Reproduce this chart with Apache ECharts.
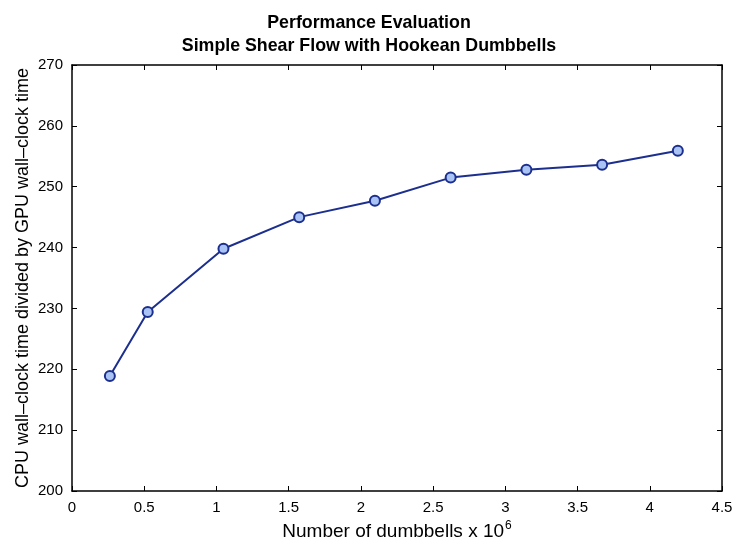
<!DOCTYPE html>
<html><head><meta charset="utf-8">
<script src="https://cdn.jsdelivr.net/npm/echarts@6/dist/echarts.min.js"></script>
<style>html,body{margin:0;padding:0;background:#fff}#c{width:738px;height:545px}</style>
</head><body><div id="c"></div>
<script>
const dumbbells = [0.262144, 0.524288, 1.048576, 1.572864, 2.097152, 2.621440, 3.145728, 3.670016, 4.194304];
const speedup = [218.9, 229.4, 239.8, 245.0, 247.7, 251.5, 252.8, 253.6, 255.9];
const titleLines = ['Performance Evaluation', 'Simple Shear Flow with Hookean Dumbbells'];
const xName = 'Number of dumbbells x 10';
const yName = 'CPU wall\u2013clock time divided by GPU wall\u2013clock time';

const chart = echarts.init(document.getElementById('c'), null, {renderer: 'canvas'});
const font = 'Liberation Sans, Arial, Helvetica, sans-serif';
const axisLine = {show: true, onZero: false, lineStyle: {color: '#000', width: 1.5}};
const tick = {show: true, inside: true, length: 5, lineStyle: {color: '#000', width: 1}};
chart.setOption({
  animation: false,
  title: {
    text: titleLines.join('\n'), left: 'center', top: 7,
    textStyle: {fontFamily: font, fontSize: 17.8, fontWeight: 'bold', color: '#000', lineHeight: 22.5}
  },
  grid: {left: 72, right: 16, top: 65, bottom: 54, containLabel: false, outerBoundsMode: 'none'},
  xAxis: [{
    type: 'value', min: 0, max: 4.5, interval: 0.5, position: 'bottom',
    axisLine, axisTick: tick, splitLine: {show: false},
    axisLabel: {fontFamily: font, fontSize: 15, color: '#000', margin: 9},
    name: '{a|' + xName + '}{s|6}', nameLocation: 'middle', nameGap: 25,
    nameTextStyle: {rich: {
      a: {fontFamily: font, fontSize: 19, color: '#000'},
      s: {fontFamily: font, fontSize: 12, color: '#000', verticalAlign: 'top', padding: [0, 0, 12, 1]}
    }}
  }, {
    type: 'value', min: 0, max: 4.5, interval: 0.5, position: 'top',
    axisLine, axisTick: tick, axisLabel: {show: false}, splitLine: {show: false}
  }],
  yAxis: [{
    type: 'value', min: 200, max: 270, interval: 10, position: 'left',
    axisLine, axisTick: tick, splitLine: {show: false},
    axisLabel: {fontFamily: font, fontSize: 15, color: '#000', margin: 9},
    name: yName, nameLocation: 'middle', nameGap: 40, nameMoveOverlap: false,
    nameTextStyle: {fontFamily: font, fontSize: 18, color: '#000'}
  }, {
    type: 'value', min: 200, max: 270, interval: 10, position: 'right',
    axisLine, axisTick: tick, axisLabel: {show: false}, splitLine: {show: false}
  }],
  series: [{
    type: 'line', xAxisIndex: 0, yAxisIndex: 0,
    data: dumbbells.map((x, i) => [x, speedup[i]]),
    symbol: 'circle', symbolSize: 10,
    lineStyle: {color: '#1c2f8e', width: 2},
    itemStyle: {color: '#a8c3f4', borderColor: '#1c2f8e', borderWidth: 2}
  }]
});
</script></body></html>
